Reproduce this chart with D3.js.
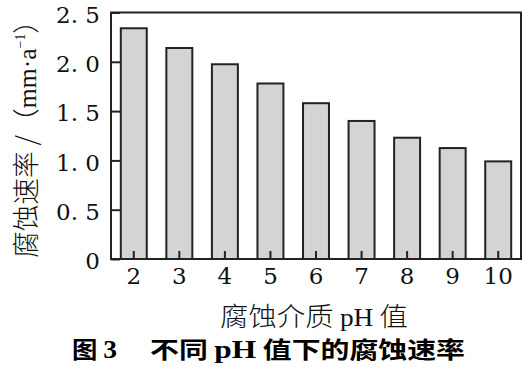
<!DOCTYPE html>
<html><head><meta charset="utf-8">
<script src="https://cdn.jsdelivr.net/npm/d3@7"></script>
<style>
body{margin:0;background:#fff;}
svg{display:block;}
.num{font-family:"DejaVu Serif","Liberation Serif",serif;}
.lnum{font-family:"Liberation Serif","DejaVu Serif",serif;}
.cjk{font-family:"Noto Sans CJK SC","Noto Sans",sans-serif;}
</style></head>
<body>
<svg id="c" width="532" height="377"></svg>
<script>
const categories = ["2","3","4","5","6","7","8","9","10"];
const rates = [2.34, 2.14, 1.975, 1.78, 1.58, 1.40, 1.23, 1.125, 0.99];
const yTicks = [0, 0.5, 1.0, 1.5, 2.0, 2.5];
const yTickLabels = ["0", "0. 5", "1. 0", "1. 5", "2. 0", "2. 5"];

const svg = d3.select("#c");
const L = 111, R = 521, T = 12.5, B = 259;
const x = d3.scaleBand().domain(categories).range([L, R]).paddingInner(0.43).paddingOuter(0.215);
const y = d3.scaleLinear().domain([0, 2.5]).range([B, T]);
const ink = "#222";
const serif = '"DejaVu Serif","Liberation Serif",serif';

// bars
svg.append("g").selectAll("rect").data(rates).join("rect")
  .attr("x", (d,i) => x(categories[i]))
  .attr("y", d => y(d))
  .attr("width", x.bandwidth())
  .attr("height", d => B - y(d))
  .attr("fill", "#d4d4d4").attr("stroke", ink).attr("stroke-width", 2);

// frame
svg.append("rect").attr("x", L).attr("y", T).attr("width", R - L).attr("height", B - T)
  .attr("fill", "none").attr("stroke", ink).attr("stroke-width", 2);

// y axis
const yAxis = d3.axisLeft(y).tickValues(yTicks).tickSize(-9).tickPadding(11)
  .tickFormat((d,i) => yTickLabels[i]);
const gy = svg.append("g").attr("transform", `translate(${L},0)`).call(yAxis);
gy.select(".domain").remove();
gy.selectAll(".tick line").attr("stroke", ink).attr("stroke-width", 2);
gy.selectAll(".tick text").attr("font-size", 23).attr("fill", "#111")
  .attr("dy", "0.42em").style("font-family", serif).style("white-space", "pre");

// x axis
const xAxis = d3.axisBottom(x).tickSize(-8).tickPadding(9);
const gx = svg.append("g").attr("transform", `translate(0,${B})`).call(xAxis);
gx.select(".domain").remove();
gx.selectAll(".tick line").attr("stroke", ink).attr("stroke-width", 2);
gx.selectAll(".tick text").attr("font-size", 23).attr("fill", "#111")
  .attr("dy", "0.71em").style("font-family", serif);

// x title
const xt = svg.append("text").attr("x", 220).attr("y", 326)
  .attr("font-size", 26).attr("fill", "#111")
  .attr("textLength", 188).attr("lengthAdjust", "spacingAndGlyphs");
xt.append("tspan").attr("class","cjk").attr("font-weight",300).text("腐蚀介质 ");
xt.append("tspan").attr("class","lnum").attr("font-size",25).text("pH");
xt.append("tspan").attr("class","cjk").attr("font-weight",300).text(" 值");

// y title
const yt = svg.append("text").attr("transform", "translate(36,258) rotate(-90)")
  .attr("font-size", 27).attr("fill", "#111")
  .attr("textLength", 251).attr("lengthAdjust", "spacingAndGlyphs");
yt.append("tspan").attr("class","cjk").attr("font-weight",300).text("腐蚀速率 /（");
yt.append("tspan").attr("class","lnum").attr("font-size",26).text("mm·a");
yt.append("tspan").attr("class","lnum").attr("font-size",14).attr("dy",-11).text("−1");
yt.append("tspan").attr("class","cjk").attr("font-weight",300).attr("dy",11).text("）");

// caption
const c1 = svg.append("text").attr("x", 72).attr("y", 358).attr("font-size", 23)
  .attr("font-weight", "bold").attr("fill", "#000")
  .attr("textLength", 45).attr("lengthAdjust", "spacingAndGlyphs");
c1.append("tspan").attr("class","cjk").text("图 ");
c1.append("tspan").attr("class","lnum").attr("font-size",25).text("3");
const c2 = svg.append("text").attr("x", 150).attr("y", 358).attr("font-size", 23)
  .attr("font-weight", "bold").attr("fill", "#000")
  .attr("textLength", 315).attr("lengthAdjust", "spacingAndGlyphs");
c2.append("tspan").attr("class","cjk").text("不同 ");
c2.append("tspan").attr("class","lnum").attr("font-size",25).text("pH");
c2.append("tspan").attr("class","cjk").text(" 值下的腐蚀速率");
</script>
</body></html>
